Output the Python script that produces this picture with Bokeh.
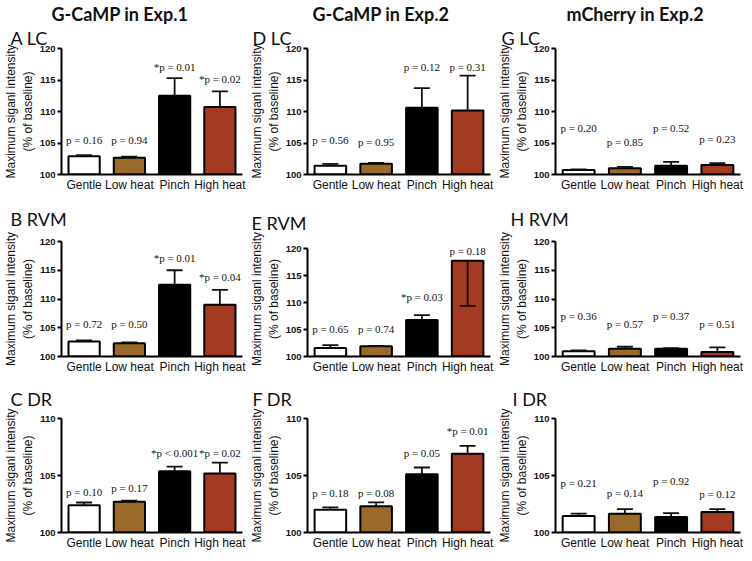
from bokeh.plotting import figure
from bokeh.layouts import row, column
from bokeh.models import Range1d, FactorRange, FixedTicker, Title, ColumnDataSource, LabelSet
from bokeh.core.properties import value
from bokeh.embed import file_html
from bokeh.resources import INLINE

categories = ["Gentle", "Low heat", "Pinch", "High heat"]
bar_colors = ["#FFFFFF", "#9A6A2B", "#000000", "#A53A22"]

column_titles = ["G-CaMP in Exp.1", "G-CaMP in Exp.2", "mCherry in Exp.2"]
panel_titles = [["A  LC", "B  RVM", "C  DR"],
                ["D  LC", "E RVM", "F DR"],
                ["G  LC", "H RVM", "I DR"]]
y_label = "Maximum siganl intensity\n(% of baseline)"
row_ymax = [120, 120, 110]

# ---- G-CaMP in Exp.1 ----
a_lc_mean = [102.9, 102.65, 112.5, 110.7]
a_lc_sem = [0.16, 0.2, 2.8, 2.5]
a_lc_p = ["p = 0.16", "p = 0.94", "*p = 0.01", "*p = 0.02"]

b_rvm_mean = [102.6, 102.3, 112.5, 109.0]
b_rvm_sem = [0.2, 0.15, 2.5, 2.6]
b_rvm_p = ["p = 0.72", "p = 0.50", "*p = 0.01", "*p = 0.04"]

c_dr_mean = [102.4, 102.7, 105.37, 105.18]
c_dr_sem = [0.23, 0.1, 0.4, 0.95]
c_dr_p = ["p = 0.10", "p = 0.17", "*p < 0.001", "*p = 0.02"]

# ---- G-CaMP in Exp.2 ----
d_lc_mean = [101.4, 101.7, 110.6, 110.15]
d_lc_sem = [0.3, 0.15, 3.1, 5.55]
d_lc_p = ["p = 0.56", "p = 0.95", "p = 0.12", "p = 0.31"]

e_rvm_mean = [101.6, 101.9, 106.8, 117.8]
e_rvm_sem = [0.5, 0.05, 0.9, 8.4]
e_rvm_p = ["p = 0.65", "p = 0.74", "*p = 0.03", "p = 0.18"]

f_dr_mean = [102.0, 102.3, 105.1, 106.9]
f_dr_sem = [0.2, 0.35, 0.6, 0.7]
f_dr_p = ["p = 0.18", "p = 0.08", "p = 0.05", "*p = 0.01"]

# ---- mCherry in Exp.2 ----
g_lc_mean = [100.7, 101.0, 101.4, 101.5]
g_lc_sem = [0.1, 0.2, 0.6, 0.3]
g_lc_p = ["p = 0.20", "p = 0.85", "p = 0.52", "p = 0.23"]

h_rvm_mean = [100.9, 101.35, 101.35, 100.8]
h_rvm_sem = [0.15, 0.35, 0.1, 0.8]
h_rvm_p = ["p = 0.36", "p = 0.57", "p = 0.37", "p = 0.51"]

i_dr_mean = [101.45, 101.65, 101.35, 101.8]
i_dr_sem = [0.2, 0.4, 0.35, 0.25]
i_dr_p = ["p = 0.21", "p = 0.14", "p = 0.92", "p = 0.12"]

# annotation heights (label placement, in axis units)
a_lab_y = [105.4, 105.4, 117.1, 115.2]
b_lab_y = [105.6, 105.6, 117.2, 113.8]
c_lab_y = [103.55, 103.9, 107.0, 107.0]
d_lab_y = [105.4, 105.2, 117.0, 117.0]
e_lab_y = [105.2, 105.2, 111.1, 119.6]
f_lab_y = [103.5, 103.5, 107.0, 108.9]
g_lab_y = [107.4, 105.2, 107.4, 105.7]
h_lab_y = [107.0, 105.6, 107.0, 105.6]
i_lab_y = [104.3, 103.5, 104.5, 103.4]

panels = [
    [(a_lc_mean, a_lc_sem, a_lc_p, a_lab_y),
     (b_rvm_mean, b_rvm_sem, b_rvm_p, b_lab_y),
     (c_dr_mean, c_dr_sem, c_dr_p, c_lab_y)],
    [(d_lc_mean, d_lc_sem, d_lc_p, d_lab_y),
     (e_rvm_mean, e_rvm_sem, e_rvm_p, e_lab_y),
     (f_dr_mean, f_dr_sem, f_dr_p, f_lab_y)],
    [(g_lc_mean, g_lc_sem, g_lc_p, g_lab_y),
     (h_rvm_mean, h_rvm_sem, h_rvm_p, h_lab_y),
     (i_dr_mean, i_dr_sem, i_dr_p, i_lab_y)],
]

# ---- layout geometry ----
col_left = [52, 54, 56]
col_right = [4, 4, 4]
frame_w = 190
row_h = [194, 182, 176]
row_top = [0, 47, 42]
nominal_frame_h = 117.5
label_standoff = [0, 23, 18]
spacer_gap = 8
head_offset = [-10, 5, 11]
panel_offset = [[-51, -51, -51], [-55, -56, -55], [-54, -45, -43]]

SANS = "Liberation Sans"
SERIF = "Liberation Serif"
TITLE_FONT = "Lato"


def make_title(text, text_size, bold, off, standoff=0):
    return Title(text=text, text_font=TITLE_FONT, text_font_size=text_size,
                 text_font_style="bold" if bold else "normal", align="left",
                 offset=off, standoff=standoff, text_color="#111111")


def make_panel(ci, ri):
    mean, sem, plab, laby = panels[ci][ri]
    ymax = row_ymax[ri]
    # extra head-room (in px) when a label sits on the top tick
    pad_px = 8 if max(laby) > ymax - 1 else 0
    y_end = ymax + pad_px * (ymax - 100) / nominal_frame_h
    w = col_left[ci] + frame_w + col_right[ci]
    h = row_h[ri]
    p = figure(x_range=FactorRange(factors=categories, range_padding=0),
               y_range=Range1d(100, y_end),
               width=w, height=h, output_backend="svg", toolbar_location=None,
               min_border_left=col_left[ci], min_border_right=col_right[ci],
               min_border_top=max(row_top[ri] - pad_px, 0), min_border_bottom=0,
               title=None)
    if ri == 0:
        # closest to the frame first: spacer, panel label, column heading
        p.add_layout(Title(text=" ", text_font_size="1px", text_alpha=0,
                           standoff=spacer_gap), "above")
        p.add_layout(make_title(panel_titles[ci][ri], "18px", False,
                                panel_offset[ci][ri]), "above")
        p.add_layout(make_title(column_titles[ci], "18px", True,
                                head_offset[ci]), "above")
    else:
        p.add_layout(make_title(panel_titles[ci][ri], "18px", False,
                                panel_offset[ci][ri],
                                label_standoff[ri] - pad_px), "above")

    p.outline_line_color = None
    p.xgrid.grid_line_color = None
    p.ygrid.grid_line_color = None
    p.background_fill_color = "white"
    p.border_fill_color = "white"

    lo, hi, cap = [], [], []
    for m, s in zip(mean, sem):
        if m + s > ymax:
            lo.append(m - s); hi.append(m); cap.append(m - s)
        else:
            lo.append(m); hi.append(m + s); cap.append(m + s)
    src = ColumnDataSource(dict(cat=categories, mean=mean, color=bar_colors,
                                lo=lo, hi=hi, cap=cap, plab=plab, laby=laby))
    p.vbar(x="cat", top="mean", bottom=100, width=0.69, source=src,
           fill_color="color", line_color="black", line_width=2)
    p.segment(x0="cat", y0="lo", x1="cat", y1="hi", source=src,
              line_color="#111111", line_width=1.8)
    p.scatter(x="cat", y="cap", source=src, marker="dash", size=16,
              line_color="#111111", line_width=1.8)
    labels = LabelSet(x="cat", y="laby", text="plab", source=src,
                      text_font=value(SERIF), text_font_size=value("11px"),
                      text_align="center", text_baseline="middle",
                      text_color="#111111")
    p.add_layout(labels)

    p.yaxis.ticker = FixedTicker(ticks=list(range(100, ymax + 1, 5)))
    p.yaxis.bounds = (100, ymax)
    p.yaxis.minor_tick_line_color = None
    p.yaxis.major_tick_out = 4
    p.yaxis.major_tick_in = 0
    p.yaxis.major_tick_line_width = 2
    p.yaxis.axis_line_width = 2
    p.yaxis.major_label_text_font = SANS
    p.yaxis.major_label_text_font_size = "9.5px"
    p.yaxis.major_label_text_font_style = "bold"
    p.yaxis.major_label_text_color = "#111111"
    p.yaxis.major_label_standoff = 2
    p.yaxis.axis_label = y_label
    p.yaxis.axis_label_text_font = SANS
    p.yaxis.axis_label_text_font_size = "12px"
    p.yaxis.axis_label_text_font_style = "normal"
    p.yaxis.axis_label_text_color = "#111111"
    p.yaxis.axis_label_standoff = 2

    p.xaxis.major_tick_line_color = None
    p.xaxis.major_tick_out = 0
    p.xaxis.major_tick_in = 0
    p.xaxis.minor_tick_line_color = None
    p.xaxis.axis_line_width = 2
    p.xaxis.major_label_text_font = SANS
    p.xaxis.major_label_text_font_size = "12px"
    p.xaxis.major_label_text_color = "#111111"
    p.xaxis.major_label_standoff = 3
    return p


rows = []
for ri in range(3):
    rows.append(row(*[make_panel(ci, ri) for ci in range(3)]))
layout = column(*rows)

open("out.html", "w").write(file_html(layout, INLINE))
